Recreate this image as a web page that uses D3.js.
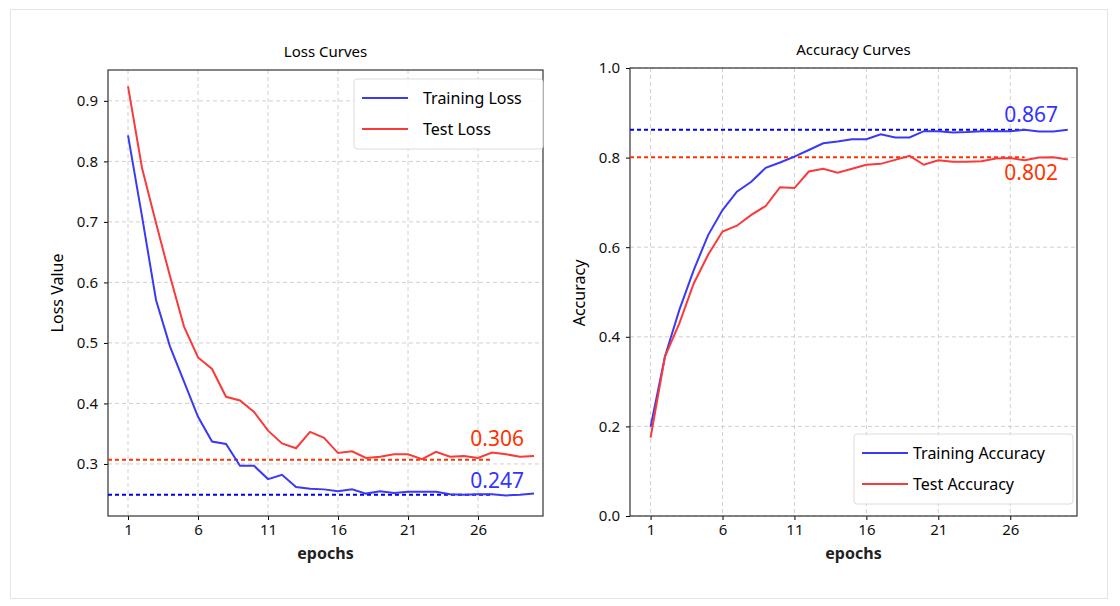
<!DOCTYPE html>
<html>
<head>
<meta charset="utf-8">
<script src="https://cdn.jsdelivr.net/npm/d3@7"></script>
<style>
  body { margin: 0; background: #fff; }
  text { font-family: "Noto Sans", "DejaVu Sans", sans-serif; }
</style>
</head>
<body>
<div class="main"></div>
<script>
// epoch data
var epochs = d3.range(1, 31);
var trainLoss = [0.843, 0.709, 0.571, 0.494, 0.436, 0.378, 0.337, 0.333, 0.297, 0.297,
  0.275, 0.282, 0.262, 0.259, 0.258, 0.255, 0.258, 0.251, 0.255, 0.252,
  0.254, 0.254, 0.254, 0.250, 0.249, 0.250, 0.250, 0.248, 0.249, 0.251];
var testLoss = [0.924, 0.789, 0.698, 0.610, 0.527, 0.476, 0.457, 0.411, 0.405, 0.386,
  0.355, 0.334, 0.326, 0.353, 0.343, 0.318, 0.321, 0.310, 0.312, 0.316,
  0.316, 0.308, 0.320, 0.312, 0.313, 0.310, 0.319, 0.316, 0.312, 0.313];
var trainAcc = [0.199, 0.356, 0.460, 0.549, 0.627, 0.683, 0.724, 0.746, 0.777, 0.789,
  0.802, 0.817, 0.832, 0.836, 0.841, 0.841, 0.852, 0.845, 0.845, 0.859,
  0.859, 0.856, 0.857, 0.859, 0.859, 0.859, 0.862, 0.858, 0.858, 0.862];
var testAcc = [0.175, 0.356, 0.430, 0.519, 0.583, 0.635, 0.648, 0.672, 0.692, 0.734,
  0.732, 0.769, 0.775, 0.766, 0.775, 0.784, 0.786, 0.795, 0.804, 0.784,
  0.794, 0.791, 0.791, 0.792, 0.798, 0.799, 0.794, 0.800, 0.801, 0.796];
var xTicks = [1, 6, 11, 16, 21, 26];
var lossTicks = [0.3, 0.4, 0.5, 0.6, 0.7, 0.8, 0.9];
var accTicks = [0.0, 0.2, 0.4, 0.6, 0.8, 1.0];
var bestLoss = { train: 0.249, test: 0.307, trainLabel: "0.247", testLabel: "0.306" };
var bestAcc = { train: 0.862, test: 0.801, trainLabel: "0.867", testLabel: "0.802" };

var blue = "#3a3af5", red = "#fa3a3a";
var svg = d3.select(".main").append("svg").attr("width", 1120).attr("height", 606);
svg.append("rect").attr("x", 10.5).attr("y", 9.5).attr("width", 1097).attr("height", 589)
  .attr("fill", "none").attr("stroke", "#e4e4e4");

function panel(opt) {
  var x = d3.scaleLinear().domain([-0.43, 30.64]).range([opt.left, opt.right]);
  var y = d3.scaleLinear().domain(opt.ydom).range([516, opt.top]);
  var g = svg.append("g");

  // grid
  g.selectAll(".gx").data(xTicks).join("line")
    .attr("x1", d => x(d)).attr("x2", d => x(d)).attr("y1", opt.top).attr("y2", 516)
    .attr("stroke", "#d0d0d0").attr("stroke-dasharray", "4,3");
  g.selectAll(".gy").data(opt.yticks).join("line")
    .attr("x1", opt.left).attr("x2", opt.right).attr("y1", d => y(d)).attr("y2", d => y(d))
    .attr("stroke", "#d0d0d0").attr("stroke-dasharray", "4,3");

  // axes
  g.append("g").attr("transform", "translate(0,516)")
    .call(d3.axisBottom(x).tickValues(xTicks).tickSize(4).tickPadding(4))
    .call(a => a.select(".domain").remove())
    .selectAll("text").style("font-size", "15px").attr("fill", "#111");
  g.append("g").attr("transform", "translate(" + opt.left + ",0)")
    .call(d3.axisLeft(y).tickValues(opt.yticks).tickFormat(d3.format(".1f")).tickSize(4).tickPadding(6))
    .call(a => a.select(".domain").remove())
    .selectAll("text").style("font-size", "15px").attr("fill", "#111");
  g.append("rect").attr("x", opt.left).attr("y", opt.top)
    .attr("width", opt.right - opt.left).attr("height", 516 - opt.top)
    .attr("fill", "none").attr("stroke", "#333").attr("stroke-width", 1.2);

  // best-value lines
  g.append("line").attr("x1", opt.left).attr("x2", x(27)).attr("y1", y(opt.best.train)).attr("y2", y(opt.best.train))
    .attr("stroke", "#0000ee").attr("stroke-width", 2).attr("stroke-dasharray", "4,3");
  g.append("line").attr("x1", opt.left).attr("x2", x(27)).attr("y1", y(opt.best.test)).attr("y2", y(opt.best.test))
    .attr("stroke", "#ff3300").attr("stroke-width", 2).attr("stroke-dasharray", "4,3");

  var line = d3.line().x((d, i) => x(epochs[i])).y(d => y(d));
  g.append("path").datum(opt.train).attr("d", line).attr("fill", "none").attr("stroke", blue).attr("stroke-width", 2);
  g.append("path").datum(opt.test).attr("d", line).attr("fill", "none").attr("stroke", red).attr("stroke-width", 2);

  // labels
  g.append("text").attr("x", (opt.left + opt.right) / 2).attr("y", opt.top - 13).attr("text-anchor", "middle")
    .style("font-size", "15px").text(opt.title);
  g.append("text").attr("x", (opt.left + opt.right) / 2).attr("y", 559).attr("text-anchor", "middle")
    .style("font-size", "16px").style("font-weight", "bold").attr("fill", "#222").text("epochs");
  g.append("text").attr("transform", "translate(" + (opt.left - 45) + "," + 293 + ") rotate(-90)")
    .attr("text-anchor", "middle").style("font-size", "16px").text(opt.ylabel);

  opt.notes.forEach(n => {
    g.append("text").attr("x", opt.right - 19).attr("y", n.y(y)).attr("text-anchor", "end")
      .style("font-size", "21px").attr("fill", n.c).text(n.t);
  });

  // legend
  var lg = g.append("g").attr("transform", "translate(" + opt.leg[0] + "," + opt.leg[1] + ")");
  lg.append("rect").attr("width", opt.leg[2]).attr("height", 70).attr("rx", 3)
    .attr("fill", "#fff").attr("fill-opacity", 0.85).attr("stroke", "#dcdcdc");
  [[opt.names[0], blue], [opt.names[1], red]].forEach((d, i) => {
    lg.append("line").attr("x1", 8).attr("x2", 54).attr("y1", 19 + i * 31).attr("y2", 19 + i * 31)
      .attr("stroke", d[1]).attr("stroke-width", 2);
    lg.append("text").attr("x", opt.leg[3]).attr("y", 25 + i * 31).style("font-size", "16px").text(d[0]);
  });
}

panel({
  left: 108, right: 543, top: 70, ydom: [0.214, 0.951], yticks: lossTicks,
  train: trainLoss, test: testLoss, best: bestLoss, title: "Loss Curves", ylabel: "Loss Value",
  names: ["Training Loss", "Test Loss"], leg: [354, 79, 189, 69],
  notes: [
    { t: bestLoss.testLabel, c: "#ff3300", y: y => y(bestLoss.test) - 14 },
    { t: bestLoss.trainLabel, c: "#3333ff", y: y => y(bestLoss.train) - 7 }
  ]
});
panel({
  left: 630, right: 1077, top: 68, ydom: [0, 1.0], yticks: accTicks,
  train: trainAcc, test: testAcc, best: bestAcc, title: "Accuracy Curves", ylabel: "Accuracy",
  names: ["Training Accuracy", "Test Accuracy"], leg: [854, 434, 219, 59],
  notes: [
    { t: bestAcc.trainLabel, c: "#3333ff", y: y => y(bestAcc.train) - 8 },
    { t: bestAcc.testLabel, c: "#ff3300", y: y => y(bestAcc.test) + 23 }
  ]
});
</script>
</body>
</html>
